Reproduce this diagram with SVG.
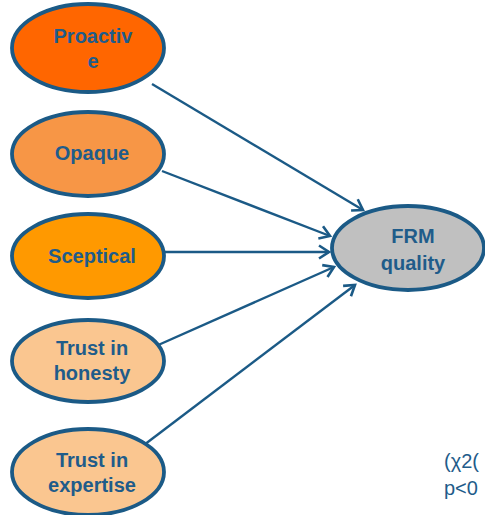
<svg xmlns="http://www.w3.org/2000/svg" width="485" height="515" viewBox="0 0 485 515">
  <defs>
    <marker id="chev" markerWidth="14" markerHeight="16" refX="11" refY="8" orient="auto" markerUnits="userSpaceOnUse">
      <path d="M1,1.5 L11,8 L1,14.5" fill="none" stroke="#1B5A86" stroke-width="2.6" stroke-linejoin="miter"/>
    </marker>
  </defs>
  <style>
    .node ellipse { stroke: #1B5A86; stroke-width: 3.8; }
    .lbl { font-family: "Liberation Sans", Arial, sans-serif; font-size: 20px; font-weight: bold; fill: #1F5C8A; text-anchor: middle; }
    .conn line { stroke: #1B5A86; stroke-width: 2.4; marker-end: url(#chev); }
    .note { font-family: "Liberation Sans", Arial, sans-serif; font-size: 20px; fill: #1F5C8A; }
  </style>
  <rect width="485" height="515" fill="#FFFFFF"/>

  <g class="conn">
    <line x1="152" y1="84" x2="363" y2="210"/>
    <line x1="162" y1="171" x2="330" y2="236"/>
    <line x1="165" y1="252" x2="329" y2="252"/>
    <line x1="156" y1="346" x2="334" y2="267"/>
    <line x1="140" y1="448" x2="355" y2="285"/>
  </g>

  <g id="proactive" class="node">
    <ellipse cx="88" cy="48" rx="76" ry="44" fill="#FF6600"/>
    <text class="lbl" x="93" y="43">Proactiv</text>
    <text class="lbl" x="93" y="68">e</text>
  </g>
  <g id="opaque" class="node">
    <ellipse cx="88" cy="154" rx="76" ry="42" fill="#F79646"/>
    <text class="lbl" x="92" y="160">Opaque</text>
  </g>
  <g id="sceptical" class="node">
    <ellipse cx="88" cy="256" rx="76" ry="42" fill="#FF9900"/>
    <text class="lbl" x="92" y="263">Sceptical</text>
  </g>
  <g id="trust-honesty" class="node">
    <ellipse cx="88" cy="361" rx="76" ry="41" fill="#FAC690"/>
    <text class="lbl" x="92" y="355">Trust in</text>
    <text class="lbl" x="92" y="380">honesty</text>
  </g>
  <g id="trust-expertise" class="node">
    <ellipse cx="88" cy="472" rx="76" ry="43" fill="#FAC690"/>
    <text class="lbl" x="92" y="467">Trust in</text>
    <text class="lbl" x="92" y="492">expertise</text>
  </g>
  <g id="frm-quality" class="node">
    <ellipse cx="408" cy="248" rx="76" ry="42" fill="#C0C0C0"/>
    <text class="lbl" x="413" y="243">FRM</text>
    <text class="lbl" x="413" y="270">quality</text>
  </g>

  <text class="note" x="444" y="468">(χ2(</text>
  <text class="note" x="444" y="495">p&lt;0</text>
</svg>
